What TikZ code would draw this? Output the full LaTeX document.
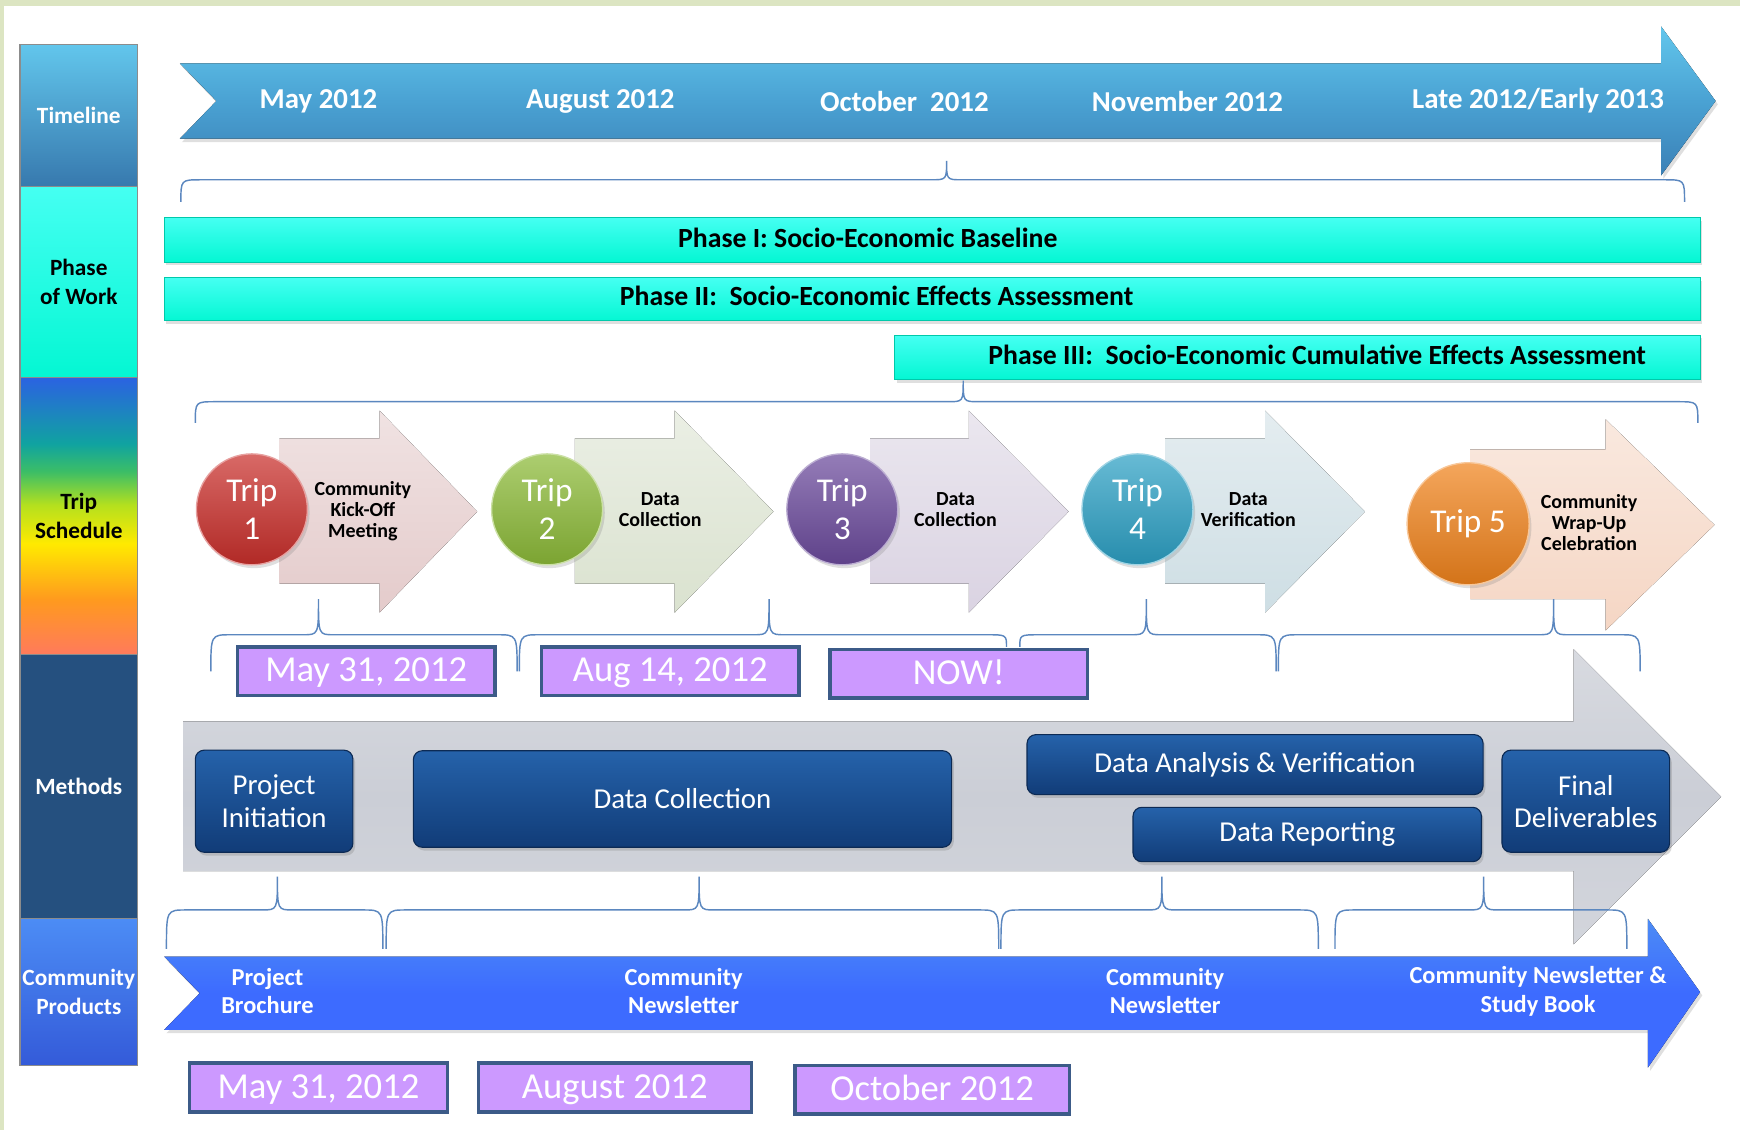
\documentclass[tikz,border=0pt]{standalone}
\usepackage{fontspec}
\setmainfont{Carlito}
\usepackage{tikz}
\usetikzlibrary{
    arrows.meta,
    positioning,
    shadows
}
\usepackage{xcolor}

\definecolor{edgegreen}{HTML}{DCE5C2}
\definecolor{tlblue}{HTML}{4AA2D3}
\definecolor{tlbluelt}{HTML}{62C6EC}
\definecolor{tlbluedk}{HTML}{3A80B6}
\definecolor{aqua}{HTML}{04F7D3}
\definecolor{aqualt}{HTML}{45FFF2}
\definecolor{aquadk}{HTML}{00C9AA}
\definecolor{methblue}{HTML}{25507F}
\definecolor{prodblue}{HTML}{3D6BFF}
\definecolor{prodbluelt}{HTML}{4C8CF5}
\definecolor{boxblue}{HTML}{113C78}
\definecolor{boxbluelt}{HTML}{2562AA}
\definecolor{greyarr}{HTML}{CBCED6}
\definecolor{lilac}{HTML}{CC99FF}
\definecolor{lilacedge}{HTML}{3C5B88}
\definecolor{bracec}{HTML}{5B87BF}
% pale trip arrows
\definecolor{pinkarr}{HTML}{E4CBCB}
\definecolor{greenarr}{HTML}{DAE2CF}
\definecolor{purparr}{HTML}{DAD3E2}
\definecolor{tealarr}{HTML}{CEDEE4}
\definecolor{orangearr}{HTML}{F5D6C4}
% trip balls
\definecolor{redball}{HTML}{C92F2B}
\definecolor{greenball}{HTML}{8CBA38}
\definecolor{purpball}{HTML}{6B4A9C}
\definecolor{tealball}{HTML}{2CA0C4}
\definecolor{orangeball}{HTML}{F0831C}
% rainbow column
\definecolor{rbA}{HTML}{FF7A5C}
\definecolor{rbB}{HTML}{FF9A1E}
\definecolor{rbC}{HTML}{FFEA00}
\definecolor{rbD}{HTML}{B4E01E}
\definecolor{rbE}{HTML}{3CBE66}
\definecolor{rbF}{HTML}{10A3A0}
\definecolor{rbG}{HTML}{2B62E2}
\pgfdeclareverticalshading{tripshade}{100bp}{color(0bp)=(rbA); color(25bp)=(rbA);
  color(35bp)=(rbB); color(45bp)=(rbC); color(52bp)=(rbD); color(58bp)=(rbE);
  color(63bp)=(rbF); color(75bp)=(rbG); color(100bp)=(rbG)}

% brace pointing up: left, tip, right, tip y, bar y, left end y, right end y
\newcommand{\upbrace}[7]{%
  \draw[bracel] (#1,#6) .. controls (#1,#5) .. ({#1+18},#5) -- ({#2-14},#5)
    .. controls (#2,#5) .. (#2,#4) .. controls (#2,#5) .. ({#2+14},#5)
    -- ({#3-18},#5) .. controls (#3,#5) .. (#3,#7);}

\begin{document}
\begin{tikzpicture}[
        x=1pt, y=-1pt,
        colbox/.style={
            draw=black!45,
            line width=1pt,
            minimum width=106pt,
            inner sep=0pt,
            align=center,
            font=\fontsize{21}{26}\selectfont\bfseries
        },
        tllabel/.style={text=white, font=\fontsize{26}{30}\selectfont\bfseries},
        phaselabel/.style={font=\fontsize{25}{30}\selectfont\bfseries},
        phasebar/.style={
            top color=aqualt,
            bottom color=aqua,
            draw=aquadk,
            line width=0.6pt,
            drop shadow={shadow xshift=2pt, shadow yshift=-3pt, opacity=0.25}
        },
        triparr/.style={top color=#1!55!white, bottom color=#1},
        tripball/.style={
            circle,
            top color=#1!72!white,
            bottom color=#1!88!black,
            draw=#1!45!white,
            line width=1.2pt,
            minimum size=100pt,
            inner sep=0pt,
            align=center,
            text=white,
            font=\fontsize{30}{34}\selectfont,
            drop shadow={shadow xshift=2pt, shadow yshift=-3pt, opacity=0.25}
        },
        triplabel/.style={align=center, font=\fontsize{18}{19}\selectfont\bfseries},
        datebox/.style={
            fill=lilac,
            draw=lilacedge,
            line width=3pt,
            minimum width=232pt,
            minimum height=44pt,
            inner sep=0pt,
            text height=23pt,
            text depth=4pt,
            text=white,
            font=\fontsize{33}{36}\selectfont
        },
        methbox/.style={
            rounded corners=8pt,
            top color=boxbluelt,
            bottom color=boxblue,
            draw=boxblue!70!black,
            line width=1pt,
            inner sep=0pt,
            align=center,
            text=white,
            font=\fontsize{26}{29}\selectfont,
            drop shadow={shadow xshift=2pt, shadow yshift=-3pt, opacity=0.3}
        },
        prodlabel/.style={align=center, text=white, font=\fontsize{22}{26}\selectfont\bfseries},
        bracel/.style={draw=bracec, line width=1.3pt}
    ]
    \useasboundingbox (0,0) rectangle (1568,1018);
    \fill[edgegreen] (0,0) rectangle (1568,1018);
    \fill[white] (4,5) rectangle (1568,1018);

    % left column
    \node[colbox, top color=tlbluelt, bottom color=tlbluedk!85!methblue, text=white,
        minimum height=128pt] (ctime) at (71,104) {Timeline};
    \node[colbox, top color=aqualt, bottom color=aqua, minimum height=172pt]
        (cphase) at (71,254) {Phase\\of Work};
    \node[colbox, shading=tripshade, minimum height=250pt]
        (ctrip) at (71,465) {Trip\\Schedule};
    \node[colbox, fill=methblue, text=white, minimum height=238pt]
        (cmeth) at (71,709) {Methods};
    \node[colbox, top color=prodbluelt, bottom color=prodblue!85!black, text=white,
        minimum height=132pt] (cprod) at (71,894) {Community\\Products};

    % timeline arrow
    \fill[top color=tlbluelt, bottom color=tlbluedk, middle color=tlblue,
        drop shadow={shadow xshift=2pt, shadow yshift=-3pt, opacity=0.25}]
        (162,57) -- (1497,57) -- (1497,24) -- (1546,91) -- (1497,158)
        -- (1497,125) -- (162,125) -- (195,91) -- cycle;
    \node[tllabel] (may) at (287,91) {May 2012};
    \node[tllabel] (aug) at (541,91) {August 2012};
    \node[tllabel] (oct) at (815,91) {October\ \ 2012};
    \node[tllabel] (nov) at (1070,91) {November 2012};
    \node[tllabel] (late) at (1386,91) {Late 2012/Early 2013};
    \upbrace{163}{853}{1518}{145}{162}{182}{182}

    % phases
    \fill[phasebar] (148,196) rectangle (1532,236);
    \fill[phasebar] (148,250) rectangle (1532,289);
    \fill[phasebar] (806,302) rectangle (1532,342);
    \node[phaselabel] (ph1) at (782,214) {Phase I: Socio-Economic Baseline};
    \node[phaselabel] (ph2) at (790,267) {Phase II:\ \ Socio-Economic Effects Assessment};
    \node[phaselabel] (ph3) at (1187,320) {Phase III:\ \ Socio-Economic Cumulative Effects Assessment};
    \upbrace{176}{868}{1530}{343}{362}{381}{381}

    % methods arrow (behind)
    \fill[top color=greyarr!75!white, bottom color=greyarr!85!white, middle color=greyarr]
        (165,650) -- (1418,650) -- (1418,585) -- (1551,718) -- (1418,851)
        -- (1418,785) -- (165,785) -- cycle;

    % trips
    \fill[triparr=pinkarr] (252,395) -- (342,395) -- (342,370) -- (430,461)
        -- (342,552) -- (342,526) -- (252,526) -- cycle;
    \fill[triparr=greenarr] (518,395) -- (608,395) -- (608,370) -- (697,461)
        -- (608,552) -- (608,526) -- (518,526) -- cycle;
    \fill[triparr=purparr] (784,395) -- (873,395) -- (873,370) -- (963,461)
        -- (873,552) -- (873,526) -- (784,526) -- cycle;
    \fill[triparr=tealarr] (1050,395) -- (1140,395) -- (1140,370) -- (1230,461)
        -- (1140,552) -- (1140,526) -- (1050,526) -- cycle;
    \fill[triparr=orangearr] (1325,405) -- (1447,405) -- (1447,378) -- (1545,473)
        -- (1447,568) -- (1447,540) -- (1325,540) -- cycle;

    \node[tripball=redball] (t1) at (227,459) {Trip\\1};
    \node[tripball=greenball] (t2) at (493,459) {Trip\\2};
    \node[tripball=purpball] (t3) at (759,459) {Trip\\3};
    \node[tripball=tealball] (t4) at (1025,459) {Trip\\4};
    \node[tripball=orangeball, minimum size=110pt] (t5) at (1323,472) {Trip 5};

    \node[triplabel] (l1) at (327,461) {Community\\Kick-Off\\Meeting};
    \node[triplabel] (l2) at (595,459) {Data\\Collection};
    \node[triplabel] (l3) at (861,459) {Data\\Collection};
    \node[triplabel] (l4) at (1125,459) {Data\\Verification};
    \node[triplabel] (l5) at (1432,471) {Community\\Wrap-Up\\Celebration};

    \upbrace{190}{287}{466}{540}{572}{605}{605}
    \upbrace{468}{693}{907}{540}{572}{605}{583}
    \upbrace{919}{1033}{1150}{540}{572}{583}{605}
    \upbrace{1152}{1400}{1478}{540}{572}{605}{605}

    \node[datebox] (dt1) at (330,605) {May 31, 2012};
    \node[datebox] (dt2) at (604,605) {Aug 14, 2012};
    \node[datebox] (dt3) at (864,607) {NOW!};

    % methods
    \node[methbox, minimum width=142pt, minimum height=92pt] (pinit) at (247,722) {Project\\Initiation};
    \node[methbox, minimum width=485pt, minimum height=87pt] (dcoll) at (615,720) {Data Collection};
    \node[methbox, minimum width=411pt, minimum height=54pt] (dana) at (1131,689) {Data Analysis \& Verification};
    \node[methbox, minimum width=314pt, minimum height=49pt] (drep) at (1178,752) {Data Reporting};
    \node[methbox, minimum width=151pt, minimum height=92pt] (final) at (1429,722) {Final\\Deliverables};

    \upbrace{150}{250}{345}{790}{820}{855}{855}
    \upbrace{348}{630}{900}{790}{820}{855}{855}
    \upbrace{902}{1047}{1188}{790}{820}{855}{855}
    \upbrace{1203}{1337}{1466}{790}{820}{855}{855}

    % community products
    \fill[top color=prodbluelt, bottom color=prodblue, middle color=prodblue,
        drop shadow={shadow xshift=2pt, shadow yshift=-3pt, opacity=0.25}]
        (148,862) -- (1485,862) -- (1485,828) -- (1532,894) -- (1485,962)
        -- (1485,928) -- (148,928) -- (180,895) -- cycle;
    \node[prodlabel] (pb) at (241,893) {Project\\Brochure};
    \node[prodlabel] (pn1) at (616,893) {Community\\Newsletter};
    \node[prodlabel] (pn2) at (1050,893) {Community\\Newsletter};
    \node[prodlabel] (pn3) at (1386,893) {Community Newsletter \&\\Study Book};

    \node[datebox] (db1) at (287,980) {May 31, 2012};
    \node[datebox, minimum width=246pt] (db2) at (554,980) {August 2012};
    \node[datebox, minimum width=247pt] (db3) at (840,982) {October 2012};
\end{tikzpicture}
\end{document}
